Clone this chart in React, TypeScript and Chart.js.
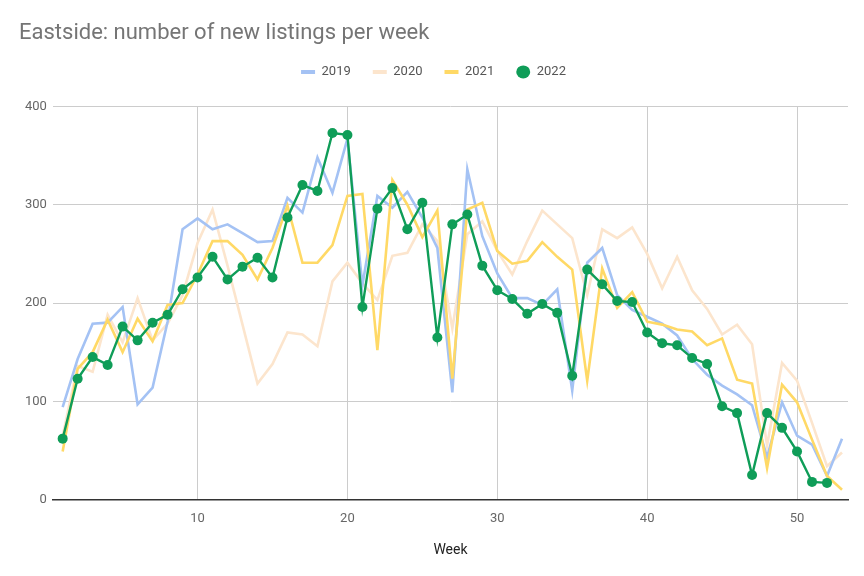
import { useEffect, useRef } from "react";
import { Chart, registerables } from "chart.js";

Chart.register(...registerables);

const TITLE = "Eastside: number of new listings per week";
const X_TITLE = "Week";

const WEEKS = [
  1, 2, 3, 4, 5, 6, 7, 8, 9, 10, 11, 12, 13, 14, 15, 16, 17, 18, 19, 20, 21, 22, 23, 24, 25, 26,
  27, 28, 29, 30, 31, 32, 33, 34, 35, 36, 37, 38, 39, 40, 41, 42, 43, 44, 45, 46, 47, 48, 49, 50,
  51, 52, 53,
];

const SERIES_LABELS = ["2019", "2020", "2021", "2022"];

const Y2019 = [
  94, 143, 179, 180, 196, 97, 114, 181, 275, 286, 275, 280, 271, 262, 263, 307, 292, 348, 312, 367,
  218, 309, 297, 313, 287, 256, 109, 336, 268, 230, 205, 205, 198, 214, 111, 241, 256, 208, 193, 186,
  179, 167, 143, 127, 116, 107, 96, 43, 99, 65, 56, 24, 62,
];

const Y2020 = [
  65, 136, 130, 188, 160, 205, 162, 179, 208, 261, 295, 238, 178, 118, 138, 170, 168, 156, 222, 241,
  220, 203, 248, 251, 280, 263, 174, 270, 283, 253, 229, 263, 294, 280, 266, 208, 275, 266, 277, 250,
  215, 247, 213, 194, 168, 178, 158, 55, 139, 121, 78, 34, 48,
];

const Y2021 = [
  49, 133, 150, 183, 150, 184, 161, 198, 200, 229, 263, 263, 249, 224, 256, 299, 241, 241, 259, 309,
  311, 152, 325, 300, 267, 294, 123, 295, 302, 253, 240, 243, 262, 247, 234, 121, 235, 195, 211, 181,
  178, 173, 171, 157, 164, 122, 118, 32, 117, 99, 61, 24, 10,
];

const Y2022 = [
  62, 123, 145, 137, 176, 162, 180, 188, 214, 226, 247, 224, 237, 246, 226, 287, 320, 314, 373, 371,
  196, 296, 317, 275, 302, 165, 280, 290, 238, 213, 204, 189, 199, 190, 126, 234, 219, 202, 201, 170,
  159, 157, 144, 138, 95, 88, 25, 88, 73, 49, 18, 17,
];

const X_TICKS = [10, 20, 30, 40, 50];
const Y_TICKS = [0, 100, 200, 300, 400];

const COLORS = ["#a4c2f4", "#fce5cd", "#ffd966", "#0f9d58"];

export default function App() {
  const ref = useRef<HTMLCanvasElement | null>(null);

  useEffect(() => {
    if (!ref.current) return;
    const toPts = (vals: number[]) => vals.map((v, i) => ({ x: WEEKS[i], y: v }));
    const seriesValues = [Y2019, Y2020, Y2021, Y2022];
    const drawOrder = [2, 3, 1, 0];

    const datasets = seriesValues.map((vals, i) => {
      const isMain = i === 3;
      return {
        label: SERIES_LABELS[i],
        data: toPts(vals),
        borderColor: COLORS[i],
        backgroundColor: COLORS[i],
        borderWidth: isMain ? 2.4 : 2.6,
        pointRadius: isMain ? 5 : 0,
        pointHoverRadius: isMain ? 5 : 0,
        pointBackgroundColor: COLORS[i],
        pointBorderWidth: 0,
        tension: 0,
        order: drawOrder[i],
      };
    });

    const chart = new Chart(ref.current, {
      type: "line",
      data: { datasets },
      options: {
        animation: false,
        responsive: false,
        devicePixelRatio: 1,
        layout: { padding: { left: 19, right: 16, top: 0, bottom: 13 } },
        plugins: {
          tooltip: { enabled: false },
          title: {
            display: true,
            text: TITLE,
            align: "start",
            color: "#757575",
            font: { family: "Roboto", size: 22, weight: "normal", lineHeight: 0.86 },
            padding: { top: 24.5, bottom: 0 },
          },
          legend: {
            display: true,
            position: "top",
            labels: {
              usePointStyle: true,
              boxHeight: 9.2,
              pointStyleWidth: 14,
              padding: 22,
              color: "#555",
              font: { family: "Roboto", size: 13 },
              generateLabels: (c: any) =>
                c.data.datasets.map((ds: any, i: number) => ({
                  text: ds.label,
                  fillStyle: ds.borderColor,
                  strokeStyle: ds.borderColor,
                  lineWidth: ds.pointRadius > 0 ? 0 : 4,
                  pointStyle: ds.pointRadius > 0 ? "circle" : "line",
                  hidden: false,
                  datasetIndex: i,
                  fontColor: "#555",
                })),
            },
          },
          subtitle: {
            display: true,
            text: "",
            weight: 500,
            font: { size: 1, lineHeight: 1 },
            padding: { top: 17, bottom: 0 },
          },
        } as any,
        scales: {
          x: {
            type: "linear",
            min: 0.35,
            max: 53.4,
            afterBuildTicks: (axis: any) => {
              axis.ticks = X_TICKS.map((v) => ({ value: v }));
            },
            grid: { color: "#cccccc", drawTicks: false, lineWidth: 1 },
            border: { display: true, color: "#333333", width: 1.5 },
            ticks: {
              padding: 11,
              color: "#666",
              font: { family: "Roboto", size: 13 },
              autoSkip: false,
              maxRotation: 0,
            },
            title: {
              display: true,
              text: X_TITLE,
              color: "#222",
              font: { family: "Roboto", size: 14 },
              padding: { top: 5, bottom: 4 },
            },
          },
          y: {
            type: "linear",
            min: 0,
            max: 400,
            afterBuildTicks: (axis: any) => {
              axis.ticks = Y_TICKS.map((v) => ({ value: v }));
            },
            grid: { color: "#cccccc", drawTicks: false, lineWidth: 1 },
            border: { display: false },
            ticks: {
              padding: 6,
              color: "#666",
              font: { family: "Roboto", size: 13 },
            },
          },
        },
      } as any,
    });

    return () => chart.destroy();
  }, []);

  return (
    <div style={{ position: "fixed", left: 0, top: 0, width: 864, height: 576, background: "#fff" }}>
      <canvas ref={ref} width={864} height={576} style={{ width: 864, height: 576, display: "block" }} />
    </div>
  );
}
